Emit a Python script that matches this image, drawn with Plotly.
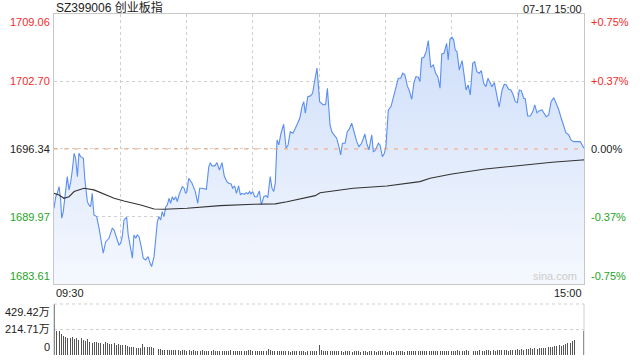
import plotly.graph_objects as go

# ---------------- data ----------------
# trading minutes since 09:30 (11:30 == 13:00 == minute 120, 15:00 == 240)
price_minutes = [
    0.0, 0.8, 1.5, 2.3, 3.0, 3.5, 4.2, 5.0, 6.0, 6.8,
    7.6, 8.3, 9.1, 9.8, 10.6, 11.3, 12.1, 13.3, 14.0, 15.1,
    15.8, 16.6, 17.3, 18.1, 19.3, 20.4, 21.1, 22.3, 23.4, 24.9,
    26.4, 27.2, 27.9, 29.4, 30.2, 30.9, 31.7, 32.9, 33.6, 34.7,
    35.5, 36.2, 37.0, 37.7, 38.5, 39.5, 40.4, 41.5, 42.6, 43.5,
    44.2, 45.3, 46.1, 46.8, 47.5, 48.3, 49.0, 49.8, 50.6, 51.3,
    52.1, 52.8, 53.6, 54.3, 55.1, 55.8, 56.6, 58.1, 58.9, 59.6,
    60.2,
    61.0, 62.5, 64.0, 65.1, 66.0, 67.0, 69.0, 70.1, 70.8, 71.5,
    72.8, 73.8, 74.9, 76.1, 77.1, 78.3, 79.1, 80.2, 80.9, 81.8,
    82.6, 83.6, 84.4, 85.1, 86.2, 87.1, 87.8, 88.6, 89.2, 90.0,
    90.9, 91.9, 93.0, 93.9, 95.0, 96.0, 96.8, 97.9, 98.7, 99.5,
    100.2, 101.0, 101.8, 102.8, 104.0, 105.1, 106.0, 107.0, 108.2, 109.3,
    110.5, 111.3, 112.3, 113.1, 113.8, 114.9, 116.1, 117.1, 118.1, 119.1,
    120.3,
    121.9, 123.0, 123.8, 125.0, 125.8, 126.8, 128.0, 129.2, 129.8, 130.6,
    131.8, 132.8, 133.7, 134.8, 135.8, 137.1, 138.1, 139.3, 140.8, 141.6,
    142.6, 143.9, 144.6, 145.4, 146.9, 147.6, 148.7, 149.6, 150.3, 151.4,
    152.6, 153.6, 154.9, 155.9, 157.0, 157.9, 158.9, 160.0, 160.9, 162.0,
    163.0, 163.9, 165.0, 165.7, 166.5, 167.5, 168.5, 169.5, 170.6, 171.8,
    172.8, 173.8, 174.8, 175.6, 176.6, 177.8, 178.5, 179.3, 180.2,
    181.0, 181.7, 182.5, 183.5, 184.8, 185.6, 186.6, 187.5, 188.5, 189.6,
    190.5, 191.5, 192.6, 193.5, 194.6, 195.6, 196.5, 197.6, 198.3, 199.4,
    200.6, 201.6, 202.9, 203.9, 204.8, 205.9, 206.9, 207.8, 208.9, 209.8,
    210.7, 211.6, 212.7, 213.4, 214.5, 215.7, 216.8, 217.7, 218.7, 219.8,
    221.0, 222.0, 222.9, 224.0, 225.1, 226.3, 227.3, 228.5, 229.7, 230.8,
    231.8, 233.1, 234.1, 235.3, 236.8, 238.3, 239.5, 240.0,
]
price_values = [
    1690.75, 1691.84, 1692.16, 1692.79, 1691.53, 1689.81, 1690.43, 1692.00, 1693.73, 1692.48,
    1693.26, 1694.36, 1695.93, 1695.46, 1693.73, 1695.93, 1695.61, 1695.46, 1693.42, 1691.37,
    1691.06, 1690.90, 1692.16, 1690.12, 1689.96, 1688.87, 1688.07, 1686.51, 1687.60, 1687.92,
    1688.87, 1688.70, 1688.23, 1687.29, 1687.45, 1688.07, 1689.65, 1689.90, 1688.23, 1686.82,
    1686.04, 1688.23, 1687.92, 1688.23, 1688.07, 1687.13, 1686.04, 1685.88, 1686.19, 1685.57,
    1685.25, 1686.19, 1687.76, 1689.49, 1689.96, 1689.65, 1690.43, 1689.96, 1690.90, 1691.06,
    1691.69, 1691.22, 1691.84, 1691.53, 1691.84, 1691.37, 1692.00, 1692.79, 1692.64, 1692.16,
    1692.32,
    1693.58, 1693.11, 1692.32, 1691.22, 1692.64, 1692.64, 1692.54, 1694.67, 1695.05, 1694.74,
    1694.74, 1695.05, 1694.36, 1695.05, 1693.79, 1693.26, 1693.11, 1693.04, 1692.64, 1692.85,
    1692.16, 1692.85, 1692.00, 1692.16, 1692.07, 1692.22, 1692.10, 1692.32, 1692.10, 1692.32,
    1691.84, 1691.84, 1692.38, 1691.06, 1691.84, 1691.94, 1691.75, 1693.73, 1692.64, 1692.32,
    1693.11, 1697.19, 1696.72, 1697.82, 1698.67, 1696.41, 1696.72, 1697.97, 1697.82, 1698.29,
    1698.91, 1699.23, 1700.33, 1700.80, 1699.71, 1701.27, 1701.34, 1701.59, 1702.84, 1703.95,
    1700.80,
    1700.49, 1700.55, 1702.06, 1698.60, 1697.97, 1697.66, 1697.35, 1696.41, 1695.77, 1696.88,
    1696.88, 1697.97, 1698.20, 1698.76, 1697.97, 1697.03, 1696.56, 1696.88, 1697.75, 1696.88,
    1696.25, 1697.66, 1696.09, 1696.18, 1696.88, 1696.72, 1695.61, 1695.93, 1696.56, 1700.02,
    1700.33, 1701.12, 1702.06, 1703.00, 1703.00, 1703.48, 1703.32, 1702.28, 1701.84, 1701.02,
    1702.59, 1703.16, 1703.10, 1702.68, 1704.89, 1704.98, 1705.51, 1706.55, 1704.04, 1704.26,
    1703.48, 1703.16, 1702.06, 1705.29, 1705.36, 1706.30, 1704.73, 1706.68, 1706.87,
    1706.61, 1705.67, 1705.51, 1703.79, 1704.66, 1703.48, 1701.90, 1702.37, 1701.43, 1704.42,
    1704.57, 1703.63, 1703.48, 1703.72, 1702.53, 1702.21, 1703.00, 1702.53, 1702.21, 1702.59,
    1701.43, 1700.27, 1701.90, 1702.44, 1702.37, 1701.97, 1701.90, 1701.52, 1700.80, 1700.70,
    1701.90, 1701.84, 1701.12, 1701.08, 1699.45, 1699.45, 1699.86, 1700.49, 1699.76, 1699.95,
    1700.02, 1699.71, 1699.38, 1699.54, 1700.80, 1701.18, 1700.70, 1700.08, 1699.23, 1698.60,
    1697.88, 1697.66, 1697.19, 1697.03, 1697.03, 1697.03, 1696.60, 1696.41,
]

avg_minutes = [0, 2.3, 4.5, 6.8, 9.1, 13.6, 18.1, 22.6, 27.2, 31.7, 39.3, 45.3, 49.8,
               60.2, 75.3, 90.4, 100.2, 105.5, 111.5, 118.3, 120.5, 135.5, 150.7,
               158.2, 165.7, 170.3, 180.2, 195.3, 210.4, 225.5, 239.1, 240]
avg_values = [1692.16, 1692.00, 1691.69, 1691.84, 1692.32, 1692.64, 1692.48, 1692.10,
              1691.69, 1691.44, 1691.06, 1690.68, 1690.66, 1690.75, 1691.00, 1691.13,
              1691.16, 1691.37, 1691.66, 1691.94, 1692.22, 1692.64, 1692.85, 1693.04,
              1693.26, 1693.58, 1693.98, 1694.45, 1694.77, 1695.09, 1695.30, 1695.31]

# volume per minute, in 万
volume = [
    429.42, 205, 200, 178, 160, 152, 145, 140, 150, 138,
    146, 130, 141, 128, 118, 135, 112, 105, 108, 112,
    104, 100, 96, 108, 100, 94, 90, 98, 86, 92,
    84, 80, 88, 72, 70, 66, 68, 62, 60, 58,
    90, 70, 68, 64, 70, 62, 58, 50, 48, 46,
    44, 42, 45, 40, 42, 38, 40, 36, 38, 42,
    36, 38, 34, 40, 35, 33, 37, 42, 36, 34,
    32, 35, 38, 33, 30, 34, 36, 31, 33, 35,
    40, 37, 34, 32, 36, 33, 30, 35, 44, 38,
    34, 31, 33, 36, 32, 30, 35, 52, 40, 36,
    33, 31, 34, 30, 32, 36, 33, 29, 31, 34,
    30, 33, 35, 31, 29, 32, 34, 30, 33, 36,
    82,
    38, 34, 36, 33, 31, 35, 32, 30, 34, 31,
    29, 33, 35, 30, 28, 32, 34, 31, 29, 33,
    30, 28, 31, 34, 30, 29, 32, 35, 31, 30,
    28, 33, 31, 29, 32, 30, 34, 31, 29, 32,
    35, 33, 30, 32, 34, 36, 33, 31, 35, 32,
    30, 34, 36, 33, 31, 35, 37, 34, 32, 36,
    33, 35, 38, 34, 32, 36, 39, 35, 33, 37,
    34, 36, 40, 37, 35, 38, 41, 36, 39, 37,
    40, 38, 42, 39, 41, 37, 43,
    45, 42, 48, 44, 50, 46, 52, 48, 55, 50,
    58, 54, 60, 56, 62, 58, 64, 70, 66, 75,
    72, 80, 78, 85, 90, 98, 105, 118, 130,
    2, 2, 2, 205,
]
volume_minutes = list(range(len(volume)))

prev_close = 1696.34
price_ticks = [1683.61, 1689.97, 1696.34, 1702.70, 1709.06]
pct_labels = ["-0.75%", "-0.37%", "0.00%", "+0.37%", "+0.75%"]
vol_max = 429.42
vol_ticks = [0, 214.71, 429.42]
vol_labels = ["0", "214.71万", "429.42万"]
title_text = "SZ399006 创业板指"
date_text = "07-17 15:00"
time_labels = ["09:30", "15:00"]

# ---------------- figure ----------------
FONT = "Arial, 'Liberation Sans', 'Noto Sans CJK SC', sans-serif"
RED = "#f02c2c"
GREEN = "#1ea51e"
DARK = "#222222"
GRID = "#cfcfcf"
MAIN_BOTTOM = 0.2082
VOL_TOP = 0.1496

fig = go.Figure()

fig.add_trace(go.Scatter(
    x=price_minutes, y=price_values, mode="lines",
    line=dict(color="#5a8ef0", width=1.1),
    fill="tozeroy",
    fillgradient=dict(type="vertical",
                      colorscale=[[0, "rgb(245,248,254)"], [1, "rgb(203,220,249)"]],
                      start=price_ticks[0], stop=price_ticks[-1]),
    hoverinfo="skip", xaxis="x", yaxis="y",
))
fig.add_trace(go.Scatter(
    x=avg_minutes, y=avg_values, mode="lines",
    line=dict(color="#333333", width=1.1),
    hoverinfo="skip", xaxis="x", yaxis="y",
))
fig.add_trace(go.Bar(
    x=volume_minutes, y=volume, width=0.45,
    marker=dict(color="#555555", line=dict(width=0)),
    hoverinfo="skip", xaxis="x2", yaxis="y2",
))

fig.update_layout(
    width=640, height=360,
    margin=dict(l=54, r=56, t=14, b=5),
    paper_bgcolor="white", plot_bgcolor="rgba(0,0,0,0)",
    showlegend=False,
    bargap=0,
    font=dict(family=FONT, size=11, color=DARK),
    xaxis=dict(domain=[0, 1], range=[0, 240], anchor="y",
               tickvals=[30, 60, 90, 120, 150, 180, 210],
               showticklabels=False, ticks="",
               showgrid=True, gridcolor=GRID, griddash="dot", gridwidth=1,
               zeroline=False, showline=True, mirror=True,
               linecolor="#c8c8c8", linewidth=1),
    yaxis=dict(domain=[MAIN_BOTTOM, 1], range=[price_ticks[0], price_ticks[-1]],
               anchor="x", tickvals=price_ticks[1:4],
               showticklabels=False, ticks="",
               showgrid=True, gridcolor=GRID, griddash="dot", gridwidth=1,
               zeroline=False, showline=True, mirror=True,
               linecolor="#c8c8c8", linewidth=1),
    xaxis2=dict(domain=[0, 1], range=[-0.3, 240.3], anchor="y2",
                showticklabels=False, ticks="", showgrid=False,
                zeroline=False, showline=False),
    yaxis2=dict(domain=[0, VOL_TOP], range=[0, vol_max], anchor="x2",
                tickvals=[vol_ticks[1]], showticklabels=False, ticks="",
                showgrid=True, gridcolor=GRID, griddash="dot", gridwidth=1,
                zeroline=False, showline=False),
)

shapes = [
    # previous close dashed line
    dict(type="line", xref="x", yref="y", x0=0, x1=240, y0=prev_close, y1=prev_close,
         line=dict(color="#f0a070", width=1, dash="4px,6px")),
    # volume panel frame
    dict(type="line", xref="paper", yref="paper", x0=0, x1=0, y0=0, y1=VOL_TOP,
         line=dict(color="#bdbdbd", width=1)),
    dict(type="line", xref="paper", yref="paper", x0=1, x1=1, y0=0, y1=VOL_TOP,
         line=dict(color="#d0d0d0", width=1)),
    dict(type="line", xref="paper", yref="paper", x0=0, x1=1, y0=VOL_TOP, y1=VOL_TOP,
         line=dict(color=GRID, width=1, dash="dot")),
]
fig.update_layout(shapes=shapes)

ann = []
left_colors = [GREEN, GREEN, DARK, RED, RED]
for i, (v, c) in enumerate(zip(price_ticks, left_colors)):
    anchor = "bottom" if i == 0 else ("top" if i == len(price_ticks) - 1 else "middle")
    ann.append(dict(xref="paper", yref="y", x=0, y=v, text=f"{v:.2f}",
                    xanchor="right", yanchor=anchor, xshift=-2, showarrow=False,
                    font=dict(color=c, size=11, family=FONT)))
    ann.append(dict(xref="paper", yref="y", x=1, y=v, text=pct_labels[i],
                    xanchor="left", yanchor=anchor, xshift=5, showarrow=False,
                    font=dict(color=c, size=11, family=FONT)))

for v, t in zip(vol_ticks, vol_labels):
    anchor = "bottom" if v == 0 else ("top" if v == vol_max else "middle")
    ann.append(dict(xref="paper", yref="y2", x=0, y=v, text=t,
                    xanchor="right", yanchor=anchor, xshift=-2, showarrow=False,
                    font=dict(color=DARK, size=11, family=FONT)))

ann.append(dict(xref="paper", yref="paper", x=0, y=MAIN_BOTTOM, text=time_labels[0],
                xanchor="left", yanchor="top", yshift=-1, showarrow=False,
                font=dict(color=DARK, size=11, family=FONT)))
ann.append(dict(xref="paper", yref="paper", x=1, y=MAIN_BOTTOM, text=time_labels[1],
                xanchor="right", yanchor="top", yshift=-1, showarrow=False,
                font=dict(color=DARK, size=11, family=FONT)))
ann.append(dict(xref="paper", yref="paper", x=0, y=1, text=title_text,
                xanchor="left", yanchor="bottom", yshift=-3, showarrow=False,
                font=dict(color=DARK, size=12, family=FONT)))
ann.append(dict(xref="paper", yref="paper", x=1, y=1, text=date_text,
                xanchor="right", yanchor="bottom", yshift=-3, showarrow=False,
                font=dict(color=DARK, size=11, family=FONT)))
ann.append(dict(xref="paper", yref="y", x=0.99, y=price_ticks[0], text="sina.com",
                xanchor="right", yanchor="bottom", showarrow=False,
                font=dict(color="#cccccc", size=11, family=FONT)))
fig.update_layout(annotations=ann)

# remove the default 8px page margin so the 640x360 figure fills the window exactly
fig.write_html("out.html",
               config={"displayModeBar": False, "staticPlot": True},
               post_script="document.body.style.margin='0';document.body.style.overflow='hidden';")
